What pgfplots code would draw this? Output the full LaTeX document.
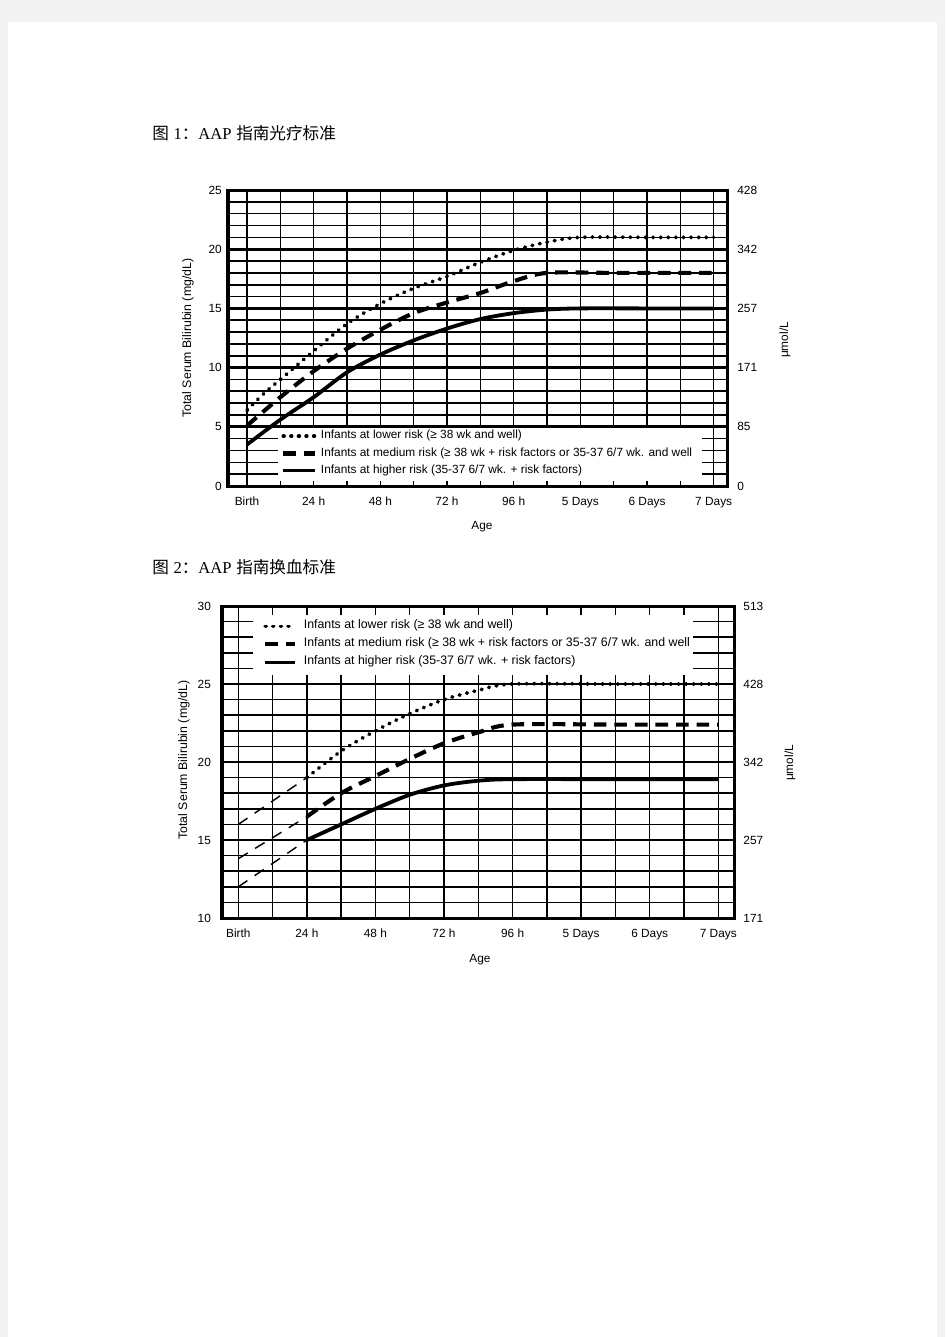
\documentclass[border=0pt]{standalone}
\usepackage{fontspec}
\setmainfont{Liberation Sans}
\newfontfamily\tnr{Liberation Serif}
\newfontfamily\cjk{Noto Sans CJK SC}
\usepackage{pgfplots}
\pgfplotsset{compat=1.18}
\definecolor{pagegray}{RGB}{243,243,243}

\pgfplotsset{
  bili/.style={
    scale only axis, clip=false,
    axis line style={line width=1.9pt},
    xtick={0,24,...,168},
    xticklabels={Birth,24 h,48 h,72 h,96 h,5 Days,6 Days,7 Days},
    extra x ticks={0,12,...,168}, extra x tick labels={},
    extra x tick style={grid=major, major grid style={black, line width=0.9pt}},
    ymajorgrids, yminorgrids, minor y tick num=4,
    major grid style={black, line width=1.7pt},
    minor grid style={black, line width=1.0pt},
    tick style={draw=none},
    font=\fontsize{7.5}{9}\selectfont,
    /pgf/number format/assume math mode=true,
    xticklabel style={inner sep=0pt, anchor=north, yshift=-2.4mm},
    yticklabel style={inner sep=0pt},
    legend cell align=left,
  },
  rightax/.style={
    scale only axis, hide x axis, axis y line*=right,
    y axis line style={draw=none}, tick style={draw=none},
    font=\fontsize{7.5}{9}\selectfont,
    yticklabel style={inner sep=0pt, anchor=west},
  },
  lowrisk/.style={black, line width=2.4pt, line cap=round, dash pattern=on 0.4pt off 4.4pt},
  medrisk/.style={black, line width=2.6pt, dash pattern=on 8pt off 5pt},
  highrisk/.style={black, line width=2.4pt},
  thinrisk/.style={black, line width=0.9pt, dash pattern=on 7pt off 5.5pt},
}

\begin{document}
\begin{tikzpicture}[x=0.2222222mm, y=-0.2222222mm]
\fill[pagegray] (0,0) rectangle (945,1337);
\fill[white] (8,22) rectangle (937,1337);
\coordinate (A1) at (228,486);
\coordinate (A2) at (222,918);

% ---------- figure 1: phototherapy ----------
\node[anchor=base west, inner sep=0pt, font=\fontsize{10.5}{12}\selectfont]
  at (152,139.5) {{\cjk 图} {\tnr 1}{\cjk ：}{\tnr AAP} {\cjk 指南光疗标准}};

\begin{axis}[bili, at={(A1)}, anchor=south west,
  width=111.11mm, height=65.78mm,
  xmin=-6.84, xmax=173.15, ymin=0, ymax=25,
  ytick={0,5,...,25},
  yticklabel style={anchor=east, xshift=-1.3mm},
  legend image code/.code={\draw[#1] (0mm,0mm) -- (7mm,0mm);},
  legend style={at={(axis cs:12.24,4.61)}, anchor=north west, draw=none, fill=none,
    inner sep=0pt, nodes={inner sep=0pt, text height=1.6mm, text depth=0.45mm},
    row sep=1.75mm, /tikz/every odd column/.append style={column sep=0.9mm}},
]
\fill[white] (axis cs:11.16,0) rectangle (axis cs:163.8,4.88);
\pgfplotsinvokeforeach{12,24,...,156}{\draw[line width=0.9pt] (axis cs:#1,0) -- (axis cs:#1,0.42);}
\addplot[lowrisk, smooth] coordinates {
  (0,6.4) (6,7.8) (12,9.0) (24,11.4) (36,13.7) (48,15.4) (60,16.7) (72,17.7)
  (84,18.9) (96,19.9) (108,20.6) (120,21.0) (144,21.0) (168,21.0)};
\addlegendentry{Infants at lower risk (≥ 38 wk and well)}
\addplot[medrisk, smooth] coordinates {
  (0,5.1) (12,7.5) (24,9.7) (36,11.6) (48,13.2) (60,14.6) (72,15.5)
  (84,16.3) (96,17.3) (108,18.0) (132,18.0) (168,18.0)};
\addlegendentry{Infants at medium risk (≥ 38 wk + risk factors or 35-37 6/7 wk. and well}
\addplot[highrisk, smooth] coordinates {
  (0,3.5) (12,5.6) (24,7.5) (36,9.6) (48,11.1) (60,12.3) (72,13.3)
  (84,14.1) (96,14.6) (108,14.9) (120,15.0) (144,15.0) (168,15.0)};
\addlegendentry{Infants at higher risk (35-37 6/7 wk. + risk factors)}
\draw[line width=1.9pt] (rel axis cs:0,0) rectangle (rel axis cs:1,1);
\end{axis}
\begin{axis}[rightax, at={(A1)}, anchor=south west,
  width=111.11mm, height=65.78mm,
  xmin=-6.84, xmax=173.15, ymin=0, ymax=25,
  ytick={0,5,...,25}, yticklabels={0,85,171,257,342,428},
  yticklabel style={xshift=2mm}]
\end{axis}
\node[rotate=90, font=\fontsize{7.8}{9}\selectfont] at (188,338) {Total Serum Bilirubin (mg/dL)};
\node[font=\fontsize{7.5}{9}\selectfont] at (482,527) {Age};
\node[rotate=90, font=\fontsize{7.5}{9}\selectfont] at (785,340) {μmol/L};

% ---------- figure 2: exchange transfusion ----------
\node[anchor=base west, inner sep=0pt, font=\fontsize{10.5}{12}\selectfont]
  at (152,573) {{\cjk 图} {\tnr 2}{\cjk ：}{\tnr AAP} {\cjk 指南换血标准}};

\begin{axis}[bili, at={(A2)}, anchor=south west,
  width=114.0mm, height=69.33mm,
  xmin=-5.7, xmax=173.85, ymin=10, ymax=30,
  ytick={10,15,...,30},
  yticklabel style={anchor=east, xshift=-2.4mm},
  legend image code/.code={\draw[#1] (0mm,0mm) -- (6.5mm,0mm);},
  legend style={at={(axis cs:8.65,29.01)}, anchor=north west, draw=none, fill=none,
    inner sep=0pt, font=\fontsize{7.8}{9}\selectfont,
    nodes={inner sep=0pt, text height=1.6mm, text depth=0.45mm},
    row sep=1.95mm, /tikz/every odd column/.append style={column sep=1.6mm}},
]
\fill[white] (axis cs:5.1,25.08) rectangle (axis cs:159.2,30);
\pgfplotsinvokeforeach{12,24,...,156}{
  \draw[line width=0.9pt] (axis cs:#1,30) -- (axis cs:#1,29.45);
  \draw[line width=0.9pt] (axis cs:#1,25) -- (axis cs:#1,25.55);}
\addplot[thinrisk, forget plot] coordinates {(0,16.0) (24,19.0)};
\addplot[thinrisk, forget plot] coordinates {(0,13.8) (24,16.5)};
\addplot[thinrisk, forget plot] coordinates {(0,12.0) (24,15.0)};
\addplot[lowrisk, smooth] coordinates {
  (24,19.0) (36,20.7) (48,22.0) (60,23.1) (72,24.0) (84,24.6) (96,25.0)
  (132,25.0) (168,25.0)};
\addlegendentry{Infants at lower risk (≥ 38 wk and well)}
\addplot[medrisk, smooth] coordinates {
  (24,16.5) (36,18.0) (48,19.1) (60,20.2) (72,21.2) (84,21.9) (96,22.4)
  (132,22.4) (168,22.4)};
\addlegendentry{Infants at medium risk (≥ 38 wk + risk factors or 35-37 6/7 wk. and well}
\addplot[highrisk, smooth] coordinates {
  (24,15.0) (36,16.0) (48,17.0) (60,17.9) (72,18.5) (84,18.8) (96,18.9)
  (132,18.9) (168,18.9)};
\addlegendentry{Infants at higher risk (35-37 6/7 wk. + risk factors)}
\draw[line width=1.9pt] (rel axis cs:0,0) rectangle (rel axis cs:1,1);
\end{axis}
\begin{axis}[rightax, at={(A2)}, anchor=south west,
  width=114.0mm, height=69.33mm,
  xmin=-5.7, xmax=173.85, ymin=10, ymax=30,
  ytick={10,15,...,30}, yticklabels={171,257,342,428,513},
  yticklabel style={xshift=1.8mm}]
\end{axis}
\node[rotate=90, font=\fontsize{7.8}{9}\selectfont] at (184,760) {Total Serum Bilirubin (mg/dL)};
\node[font=\fontsize{7.5}{9}\selectfont] at (480,960) {Age};
\node[rotate=90, font=\fontsize{7.5}{9}\selectfont] at (790,763) {μmol/L};
\end{tikzpicture}
\end{document}
